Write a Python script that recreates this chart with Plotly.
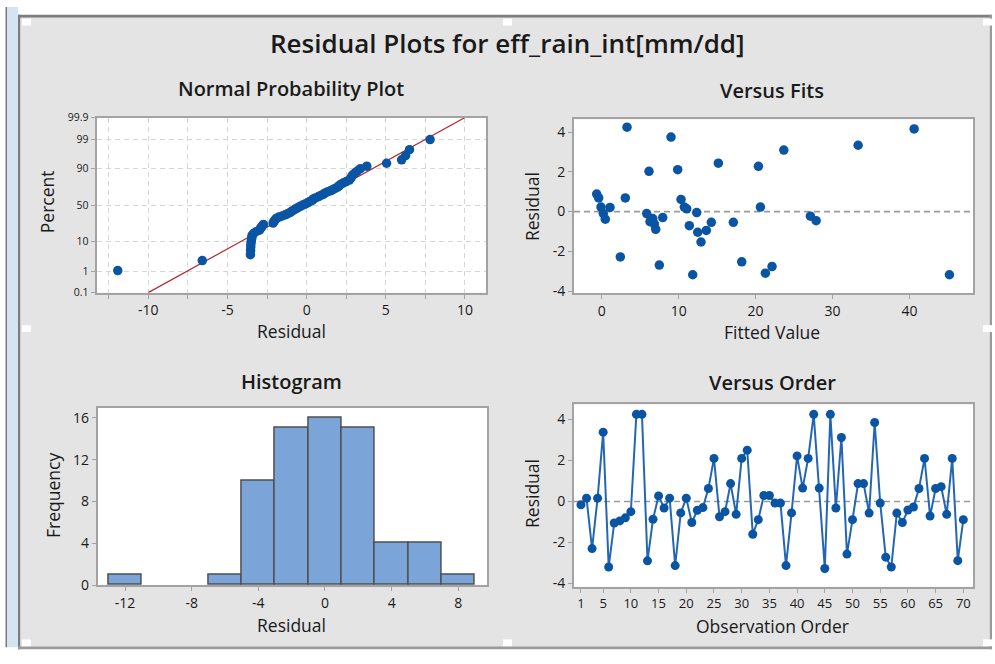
import plotly.graph_objects as go
from statistics import NormalDist

W, H = 995, 664
nd = NormalDist()

# ---------------- data ----------------
# sorted residuals used in the normal probability plot and histogram
npp_residuals = [
    -11.93, -6.59,
    -3.55, -3.54, -3.53, -3.52, -3.5, -3.48, -3.46, -3.44, -3.35, -3.2,
    -2.98, -2.92, -2.86, -2.8, -2.73, -2.12, -2.08, -2.02, -1.97, -1.9,
    -1.75, -1.55, -1.35, -1.2, -1.05,
    -0.95, -0.85, -0.75, -0.62, -0.5, -0.38, -0.25, -0.1, 0.05, 0.15,
    0.28, 0.38, 0.45, 0.6, 0.75, 0.9,
    1.05, 1.15, 1.3, 1.5, 1.65, 1.8, 1.95, 2.05, 2.15, 2.3, 2.5, 2.7,
    2.78, 2.84, 2.9,
    3.05, 3.2, 3.4, 3.8,
    5.05, 6.0, 6.25, 6.5, 7.8,
]
fit_mean = 0.0
fit_sd = 3.236
pct_ticks = [0.1, 1, 10, 50, 90, 99, 99.9]
pct_labels = ["0.1", "1", "10", "50", "90", "99", "99.9"]
npp_xticks = [-12.5, -10, -7.5, -5, -2.5, 0, 2.5, 5, 7.5, 10]
npp_xlabels = ["", "-10", "", "-5", "", "0", "", "5", "", "10"]

fits_x = [-0.65, -0.39, -0.09, 0.21, 0.47, 1.08, 2.42, 3.07, 3.29, 5.85, 6.15,
          6.28, 6.63, 6.84, 7.02, 7.49, 7.93, 9.01, 9.88, 10.31, 10.74, 11.05,
          11.39, 11.83, 12.35, 12.48, 12.91, 13.6, 14.25, 15.16, 17.11, 18.2,
          20.37, 20.63, 21.28, 22.14, 23.67, 27.13, 27.87, 33.33, 40.61, 45.2]
fits_y = [0.88, 0.69, 0.23, -0.10, -0.38, 0.21, -2.28, 0.69, 4.25, -0.10, 2.03,
          -0.51, -0.35, -0.62, -0.89, -2.69, -0.30, 3.75, 2.11, 0.61, 0.23, 0.14,
          -0.71, -3.18, -0.05, -1.04, -1.53, -0.95, -0.54, 2.44, -0.54, -2.53,
          2.28, 0.23, -3.10, -2.77, 3.10, -0.23, -0.46, 3.34, 4.16, -3.18]
fits_xticks = [0, 10, 20, 30, 40]
resid_ticks = [-4, -2, 0, 2, 4]
resid_labels = ["-4", "-2", "0", "2", "4"]

order_resid = [
    -0.16, 0.16, -2.3, 0.16, 3.38, -3.2, -1.05, -0.95, -0.8, -0.5,
    4.25, 4.25, -2.9, -0.87, 0.27, -0.32, 0.16, -3.13, -0.56, 0.16,
    -1.03, -0.43, -0.3, 0.63, 2.1, -0.75, -0.5, 0.87, -0.63, 2.1,
    2.5, -1.6, -0.89, 0.29, 0.29, -0.08, -0.08, -3.13, -0.56, 2.22,
    0.65, 2.1, 4.25, 0.65, -3.27, 4.25, -0.32, 3.12, -2.57, -0.89,
    0.87, 0.87, -0.57, 3.85, -0.08, -2.72, -3.2, -0.57, -1.03, -0.42,
    -0.27, 0.63, 2.1, -0.71, 0.63, 0.72, -0.63, 2.1, -2.89, -0.89,
]
order_idx = list(range(1, len(order_resid) + 1))
order_ticks = [1, 5, 10, 15, 20, 25, 30, 35, 40, 45, 50, 55, 60, 65, 70]

hist_start, hist_end, hist_size = -13, 9, 2
hist_xticks = [-12, -8, -4, 0, 4, 8]
hist_xlabels = ["-12", "-8", "-4", "0", "4", "8"]
hist_yticks = [0, 4, 8, 12, 16]

# ---------------- derived ----------------
n = len(npp_residuals)
npp_z = [nd.inv_cdf((i + 1 - 0.3) / (n + 0.4)) for i in range(n)]
zmax = nd.inv_cdf(0.999)
line_x = [fit_mean - zmax * fit_sd, fit_mean + zmax * fit_sd]
line_z = [-zmax, zmax]
pct_z = [nd.inv_cdf(p / 100) for p in pct_ticks]

def fx(px):
    return px / W

def fy(py):
    return 1 - py / H

FONT = "Open Sans"
DOT = "#0a55a3"
LINE = "#2466b6"
AXC = "#a3a3a3"
TXT = "#1a1a1a"

fig = go.Figure()

fig.add_trace(go.Scatter(x=line_x, y=line_z, mode="lines",
                         line=dict(color="#b3262b", width=1.2),
                         xaxis="x", yaxis="y", hoverinfo="skip"))
fig.add_trace(go.Scatter(x=npp_residuals, y=npp_z, mode="markers",
                         marker=dict(color=DOT, size=9.5),
                         xaxis="x", yaxis="y"))
fig.add_trace(go.Scatter(x=fits_x, y=fits_y, mode="markers",
                         marker=dict(color=DOT, size=9.5),
                         xaxis="x2", yaxis="y2"))
fig.add_trace(go.Histogram(x=npp_residuals,
                           xbins=dict(start=hist_start, end=hist_end, size=hist_size),
                           marker=dict(color="#7ba4d8", line=dict(color="#4f4f4f", width=1.5)),
                           xaxis="x3", yaxis="y3"))
fig.add_trace(go.Scatter(x=order_idx, y=order_resid, mode="lines+markers",
                         line=dict(color=LINE, width=2),
                         marker=dict(color=DOT, size=9),
                         xaxis="x4", yaxis="y4"))

base_axis = dict(showline=True, mirror=True, linecolor=AXC, linewidth=2,
                 ticks="outside", ticklen=4, tickcolor=AXC, tickwidth=1,
                 showgrid=False, zeroline=False,
                 tickfont=dict(family=FONT, size=14, color=TXT))

# Panel domains (pixels)
p1 = (96.7, 486, 113.3, 292.7)
p2 = (574, 973.3, 115, 293.3)
p3 = (97.7, 487.3, 410.7, 592.3)
p4 = (574, 973.3, 407.3, 594)

def dom(p):
    return [fx(p[0]), fx(p[1])], [fy(p[3]), fy(p[2])]

d1x, d1y = dom(p1)
d2x, d2y = dom(p2)
d3x, d3y = dom(p3)
d4x, d4y = dom(p4)

grid = dict(showgrid=True, gridcolor="#d6d6d6", gridwidth=1.2, griddash="5px,4px")

fig.update_layout(
    width=W, height=H, margin=dict(l=0, r=0, t=0, b=0),
    paper_bgcolor="white", plot_bgcolor="rgba(0,0,0,0)",
    showlegend=False, bargap=0,
    xaxis=dict(base_axis, **grid, domain=d1x, anchor="y", range=[-13.26, 11.33],
               tickmode="array", tickvals=npp_xticks, ticktext=npp_xlabels),
    yaxis=dict(base_axis, **grid, domain=d1y, anchor="x", range=[-zmax, zmax],
               tickmode="array", tickvals=pct_z, ticktext=pct_labels,
               tickfont=dict(family=FONT, size=10.5, color=TXT)),
    xaxis2=dict(base_axis, domain=d2x, anchor="y2", range=[-3.6, 48.3],
                tickmode="array", tickvals=fits_xticks),
    yaxis2=dict(base_axis, domain=d2y, anchor="x2", range=[-4.11, 4.65],
                tickmode="array", tickvals=resid_ticks, ticktext=resid_labels),
    xaxis3=dict(base_axis, domain=d3x, anchor="y3", range=[-13.64, 9.74],
                tickmode="array", tickvals=hist_xticks, ticktext=hist_xlabels),
    yaxis3=dict(base_axis, domain=d3y, anchor="x3", range=[0, 16.96],
                tickmode="array", tickvals=hist_yticks),
    xaxis4=dict(base_axis, domain=d4x, anchor="y4", range=[-0.26, 71.8],
                tickmode="array", tickvals=order_ticks,
                tickfont=dict(family=FONT, size=13, color=TXT)),
    yaxis4=dict(base_axis, domain=d4y, anchor="x4", range=[-4.16, 4.73],
                tickmode="array", tickvals=resid_ticks, ticktext=resid_labels),
)

shapes = []
def rect(x0, y0, x1, y1, color):
    shapes.append(dict(type="rect", xref="paper", yref="paper",
                       x0=fx(x0), x1=fx(x1), y0=fy(y1), y1=fy(y0),
                       fillcolor=color, line=dict(width=0), layer="below"))

rect(7, 0, 18, 656, "#d6e4f2")
rect(5.5, 0, 7, 656, "#7a7a7a")
rect(18, 8, 20.5, 658, "#7d7d7d")
rect(18, 8, 992, 11, "#7d7d7d")
rect(989.5, 8, 992, 658, "#9a9a9a")
rect(18, 655, 992, 658, "#9a9a9a")
rect(20.5, 11, 989.5, 655, "#e4e4e4")
for p in (p1, p2, p3, p4):
    rect(p[0], p[2], p[1], p[3], "white")
for (hx, hy) in [(22, 12), (503, 12), (983, 12), (22, 326), (983, 326),
                 (22, 648), (503, 648), (983, 648)]:
    rect(hx, hy, hx + 9, hy + 7, "white")

# dashed zero reference lines
for xr, yr in (("x2", "y2"), ("x4", "y4")):
    shapes.append(dict(type="line", xref=xr + " domain", yref=yr, x0=0, x1=1, y0=0, y1=0,
                       line=dict(color="#9a9a9a", width=1.6, dash="6px,4px"), layer="below"))

fig.update_layout(shapes=shapes)

ann = []
def text(s, x, y, size, weight=400, angle=0):
    ann.append(dict(text=s, x=fx(x), y=fy(y), xref="paper", yref="paper",
                    showarrow=False, xanchor="center", yanchor="middle", textangle=angle,
                    font=dict(family=FONT, size=size, color=TXT, weight=weight)))

text("Residual Plots for eff_rain_int[mm/dd]", 507, 37, 26, 600)
text("Normal Probability Plot", 291, 84, 20, 600)
text("Versus Fits", 772, 86, 20, 600)
text("Histogram", 291, 384, 20, 600)
text("Versus Order", 772, 385, 20, 600)
text("Residual", 291, 332, 17.5)
text("Percent", 47, 200, 17.5, angle=-90)
text("Fitted Value", 772, 333, 17.5)
text("Residual", 532, 205, 17.5, angle=-90)
text("Residual", 291, 633, 17.5)
text("Frequency", 53, 501, 17.5, angle=-90)
text("Observation Order", 772, 634, 17.5)
text("Residual", 532, 499, 17.5, angle=-90)
fig.update_layout(annotations=ann)

fig.write_html("out.html")
